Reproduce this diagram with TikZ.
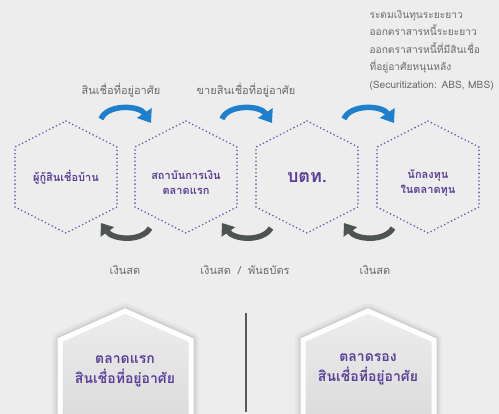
\documentclass[tikz,border=0pt]{standalone}
\usepackage{fontspec}
\setmainfont{Loma}[Script=Thai]
\usetikzlibrary{arrows.meta,calc}
\definecolor{fond}{HTML}{EDEDED}
\definecolor{mauve}{HTML}{5B3F98}
\definecolor{pointille}{HTML}{6A58AC}
\definecolor{gristexte}{HTML}{6A6A6A}
\definecolor{bleufleche}{HTML}{1E7FCC}
\definecolor{grisfleche}{HTML}{4E544F}

\begin{document}
\begin{tikzpicture}[x=1pt,y=-1pt,
    hexa/.style={draw=pointille,line width=1.8pt,line cap=round,dash pattern=on 0pt off 3.8pt},
    txthex/.style={text=mauve,font=\bfseries\fontsize{11}{15}\selectfont,align=center},
    legende/.style={text=gristexte,font=\fontsize{11}{13}\selectfont,align=center},
    flechebleue/.style={draw=bleufleche,line width=5.5pt,-{Triangle[length=12pt,width=17pt]}},
    flechegrise/.style={draw=grisfleche,line width=5.5pt,-{Triangle[length=11pt,width=16pt]}},
    maison/.style={draw=white,line width=5pt,line join=miter,top color=fond,bottom color=black!14},
    txtmaison/.style={text=mauve,font=\bfseries\fontsize{14}{20}\selectfont,align=center}]
    % fond
    \fill[fond] (0,0) rectangle (499,414);
    \useasboundingbox (0,0) rectangle (499,414);
    % définition des points
    \foreach \i/\x in {1/66,2/186,3/307,4/428}
        \coordinate (c\i) at (\x,177);
    \foreach \i/\x in {1/101,2/222,3/344} {
        \coordinate (ba\i) at (\x,119);
        \coordinate (bb\i) at (\x+50,123);
        \coordinate (ga\i) at (\x+49,228);
        \coordinate (gb\i) at (\x,223);
    }
    % hexagones
    \foreach \x in {66,186,307,428}
        \draw[hexa] (\x,121) -- (\x+51,147) -- (\x+51,207) -- (\x,233)
            -- (\x-51,207) -- (\x-51,147) -- cycle;
    \node[txthex] (h1) at (c1) {ผู้กู้สินเชื่อบ้าน};
    \node[txthex] (h2) at ($(c2)+(0,6)$) {สถาบันการเงิน\\ตลาดแรก};
    \node[txthex,font=\bfseries\fontsize{18}{20}\selectfont] (h3) at (c3) {บตท.};
    \node[txthex] (h4) at ($(c4)+(0,6)$) {นักลงทุน\\ในตลาดทุน};
    % flèches
    \foreach \i in {1,2,3} {
        \draw[flechebleue] (ba\i) .. controls +(6,-15) and +(-12,-18) .. (bb\i);
        \draw[flechegrise] (ga\i) .. controls +(-8,14) and +(12,17) .. (gb\i);
    }
    % légendes
    \node[legende] (l1) at (121,90) {สินเชื่อที่อยู่อาศัย};
    \node[legende] (l2) at (246,90) {ขายสินเชื่อที่อยู่อาศัย};
    \node[legende,align=left,anchor=west,font=\fontsize{10.2}{17.5}\selectfont] (l3) at (366,50)
        {ระดมเงินทุนระยะยาว\\ออกตราสารหนี้ระยะยาว\\ออกตราสารหนี้ที่มีสินเชื่อ\\ที่อยู่อาศัยหนุนหลัง\\(Securitization: ABS, MBS)};
    \node[legende] (m1) at (125,270) {เงินสด};
    \node[legende] (m2) at (245,270) {เงินสด\hspace{7pt}/\hspace{7pt}พันธบัตร};
    \node[legende] (m3) at (375,270) {เงินสด};
    % maisons
    \foreach \x in {125,368} {
        \foreach \w/\o in {16/0.03,11/0.05,7/0.07}
            \draw[black,opacity=\o,line width=\w pt,line join=round] (\x-65,420) -- (\x-65,340) -- (\x,311) -- (\x+66,340) -- (\x+66,420);
        \draw[maison] (\x-65,420) -- (\x-65,340) -- (\x,311) -- (\x+66,340) -- (\x+66,420) -- cycle;
    }
    \node[txtmaison] (p1) at (125,371) {ตลาดแรก\\สินเชื่อที่อยู่อาศัย};
    \node[txtmaison] (p2) at (368,369) {ตลาดรอง\\สินเชื่อที่อยู่อาศัย};
    % séparation
    \draw[black!65,line width=1.5pt] (246,313) -- (246,412);
\end{tikzpicture}
\end{document}
